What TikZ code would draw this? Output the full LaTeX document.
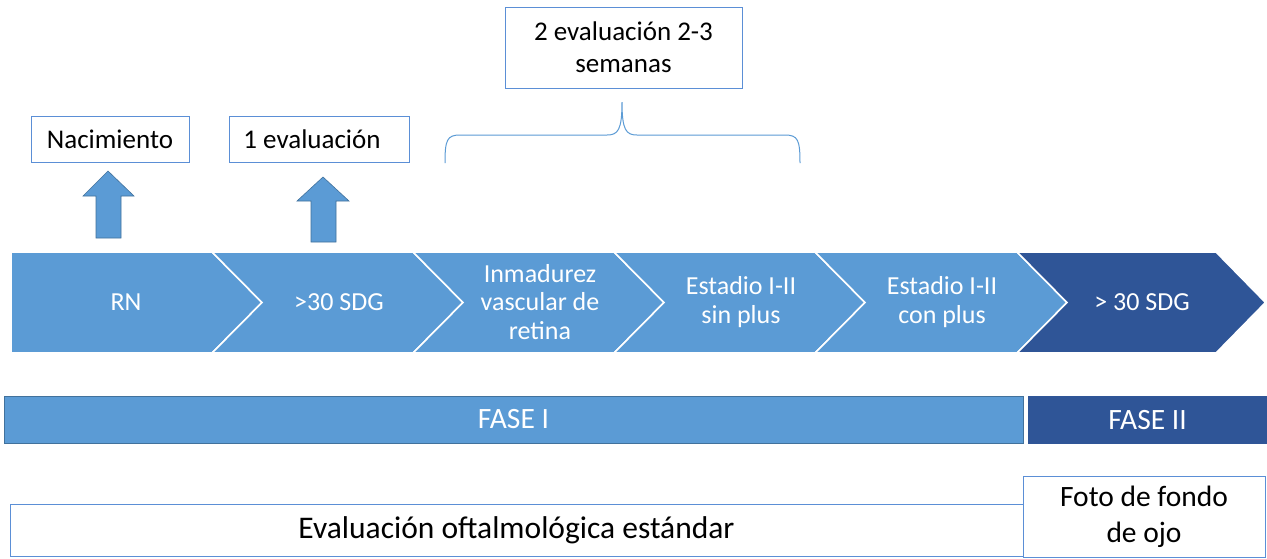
\documentclass[tikz,border=0pt]{standalone}
\usepackage{fontspec}
\setmainfont{Carlito}
\definecolor{lblue}{HTML}{5B9BD5}
\definecolor{dblue}{HTML}{2F5597}
\definecolor{edgeblue}{HTML}{41719C}
\definecolor{boxline}{HTML}{5B8FD6}
\tikzset{
  chev/.style={fill=lblue, draw=white, line width=1.6pt, line join=miter},
  chevdark/.style={fill=dblue, draw=white, line width=1.6pt, line join=miter},
  chevtext/.style={text=white, align=center, inner sep=0pt, font=\fontsize{26}{28.5}\selectfont},
  tbox/.style={draw=boxline, line width=1pt, fill=white, inner sep=0pt, align=center, font=\fontsize{27}{32}\selectfont},
  bbox/.style={draw=boxline, line width=1pt, fill=white, inner sep=0pt, align=center},
  upar/.style={fill=lblue, draw=edgeblue, line width=0.6pt, line join=miter},
  phase/.style={inner sep=0pt, text=white, font=\fontsize{29.5}{32}\selectfont},
  bracestyle/.style={draw=lblue, line width=1pt}
}
\begin{document}
\begin{tikzpicture}[x=1pt, y=-1pt]
\useasboundingbox (0,0) rectangle (1267,558);
\fill[white] (0,0) rectangle (1267,558);

% chevrons
\path[chev] (11,252) -- (212,252) -- (262,302.5) -- (212,353) -- (11,353) -- cycle;
\path[chev] (212,252) -- (413,252) -- (463,302.5) -- (413,353) -- (212,353) -- (262,302.5) -- cycle;
\path[chev] (413,252) -- (614,252) -- (664,302.5) -- (614,353) -- (413,353) -- (463,302.5) -- cycle;
\path[chev] (614,252) -- (815,252) -- (865,302.5) -- (815,353) -- (614,353) -- (664,302.5) -- cycle;
\path[chev] (815,252) -- (1017,252) -- (1067,302.5) -- (1017,353) -- (815,353) -- (865,302.5) -- cycle;
\path[chevdark] (1017,252) -- (1216,252) -- (1265.5,302.5) -- (1216,353) -- (1017,353) -- (1067,302.5) -- cycle;

\node[chevtext] (c1) at (126,302) {RN};
\node[chevtext] (c2) at (339,302) {>30 SDG};
\node[chevtext] (c3) at (540,302) {Inmadurez\\vascular de\\retina};
\node[chevtext] (c4) at (741,302) {Estadio I-II\\sin plus};
\node[chevtext] (c5) at (942,302) {Estadio I-II\\con plus};
\node[chevtext] (c6) at (1142,302) {> 30 SDG};

% up arrows
\path[upar] (108,171) -- (134,196) -- (121,196) -- (121,238) -- (96,238) -- (96,196) -- (83,196) -- cycle;
\path[upar] (323,177) -- (349,201) -- (336,201) -- (336,242) -- (311,242) -- (311,201) -- (297,201) -- cycle;

% top boxes
\node[tbox, minimum width=158pt, minimum height=46pt] (nac) at (110,139) {Nacimiento};
\node[tbox, minimum width=180pt, minimum height=46pt] (ev1) at (319,139) {};
\node[inner sep=0pt, font=\fontsize{27}{32}\selectfont] (ev1t) at (312,139) {1 evaluación};
\node[tbox, minimum width=237pt, minimum height=81pt] (ev2) at (623.5,47.5) {2 evaluación 2-3\\semanas};

% brace
\coordinate (bl) at (445,163);
\coordinate (br) at (800,163);
\coordinate (bt) at (622,102);
\draw[bracestyle] (bl) .. controls (445,140) and (447,135) .. (460,135) -- (607,135)
  .. controls (618,135) and (622,130) .. (bt)
  .. controls (622,130) and (626,135) .. (637,135) -- (785,135)
  .. controls (798,135) and (800,140) .. (br);

% phase bars
\node[phase, fill=lblue, draw=edgeblue, line width=0.8pt, minimum width=1019pt, minimum height=47pt] (f1) at (513.5,419.5) {FASE I};
\node[phase, fill=dblue, minimum width=239pt, minimum height=48pt] (f2) at (1147.5,420) {FASE II};

% bottom boxes
\node[bbox, minimum width=1013pt, minimum height=52pt, font=\fontsize{31.5}{34}\selectfont] (std) at (516.5,530) {\raisebox{-2pt}{Evaluación oftalmológica estándar}};
\node[bbox, minimum width=242pt, minimum height=81pt, font=\fontsize{29.5}{36}\selectfont] (foto) at (1144,516.5) {Foto de fondo\\de ojo};
\end{tikzpicture}
\end{document}
